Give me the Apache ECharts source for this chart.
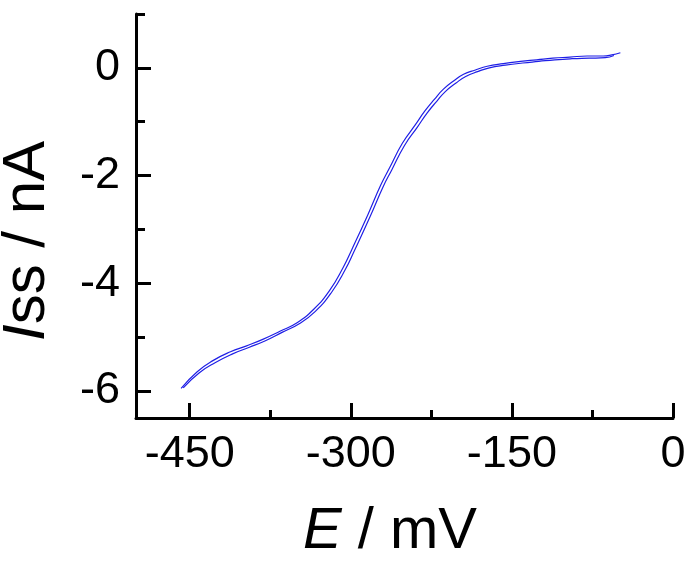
<!DOCTYPE html>
<html>
<head>
<meta charset="utf-8">
<script src="https://cdn.jsdelivr.net/npm/echarts@6/dist/echarts.min.js"></script>
<style>
  html, body { margin: 0; padding: 0; background: #fff; }
  #chart { width: 693px; height: 565px; }
</style>
</head>
<body>
<div id="chart"></div>
<script>
// sweep 1 (outer trace)
const sweepA_E = [-458, -443, -428, -412, -397, -382, -366, -350, -335, -320, -307, -299, -284, -272, -264, -252, -240, -231, -222, -214, -204, -195, -184, -173, -158, -142, -127, -112, -96, -80, -65, -57, -49];
const sweepA_I = [-5.95, -5.64, -5.43, -5.27, -5.16, -5.04, -4.89, -4.73, -4.49, -4.14, -3.70, -3.37, -2.72, -2.17, -1.86, -1.40, -1.06, -0.80, -0.58, -0.40, -0.24, -0.12, -0.04, 0.03, 0.08, 0.12, 0.15, 0.18, 0.20, 0.22, 0.22, 0.24, 0.28];
// sweep 2 (return trace)
const sweepB_E = [-456, -441, -426, -410, -395, -380, -364, -348, -333, -318, -305, -297, -282, -270, -262, -250, -238, -229, -220, -212, -202, -193, -182, -171, -156, -140, -125, -110, -94, -78, -63, -55];
const sweepB_I = [-5.94, -5.66, -5.47, -5.31, -5.19, -5.07, -4.91, -4.75, -4.52, -4.17, -3.74, -3.41, -2.76, -2.21, -1.90, -1.44, -1.10, -0.84, -0.62, -0.44, -0.28, -0.16, -0.07, 0.00, 0.05, 0.09, 0.12, 0.15, 0.17, 0.18, 0.19, 0.23];

const xMajor = [-450, -300, -150, 0];
const xMinor = [-375, -225, -75];
const yMajor = [-6, -4, -2, 0];
const yMinor = [-5, -3, -1, 1];

const font = "'Liberation Sans', Arial, Helvetica, sans-serif";
const lineColor = "#1f1fe6";

function pairs(xs, ys) {
  return xs.map((x, i) => [x, ys[i]]);
}

const chart = echarts.init(document.getElementById("chart"));

const axisLine = { show: true, onZero: false, lineStyle: { color: "#000", width: 3 } };
const noLine = { show: false, onZero: false };

chart.setOption({
  animation: false,
  grid: { left: 136, right: 20, top: 14, bottom: 147 },
  xAxis: [
    {
      type: "value",
      position: "bottom",
      min: -500,
      max: 0,
      axisLine: axisLine,
      axisTick: { inside: true, length: 15, customValues: xMajor, lineStyle: { color: "#000", width: 3 } },
      axisLabel: { customValues: xMajor, color: "#000", fontFamily: font, fontSize: 45, margin: 14 },
      splitLine: { show: false },
    },
    {
      type: "value",
      position: "bottom",
      min: -500,
      max: 0,
      axisLine: noLine,
      axisTick: { inside: true, length: 8, customValues: xMinor, lineStyle: { color: "#000", width: 3 } },
      axisLabel: { show: false },
      splitLine: { show: false },
    },
  ],
  yAxis: [
    {
      type: "value",
      position: "left",
      min: -6.5,
      max: 1,
      axisLine: axisLine,
      axisTick: { inside: true, length: 15, customValues: yMajor, lineStyle: { color: "#000", width: 3 } },
      axisLabel: { customValues: yMajor, color: "#000", fontFamily: font, fontSize: 45, margin: 16 },
      splitLine: { show: false },
    },
    {
      type: "value",
      position: "left",
      min: -6.5,
      max: 1,
      axisLine: noLine,
      axisTick: { inside: true, length: 9, customValues: yMinor, lineStyle: { color: "#000", width: 3 } },
      axisLabel: { show: false },
      splitLine: { show: false },
    },
  ],
  graphic: [
    {
      type: "text",
      x: 390,
      y: 532,
      style: {
        text: "{i|E} / mV",
        font: "58px " + font,
        fill: "#000",
        align: "center",
        verticalAlign: "middle",
        rich: { i: { fontStyle: "italic", fontSize: 58, fontFamily: font } },
      },
    },
    {
      type: "text",
      x: 27,
      y: 241,
      rotation: Math.PI / 2,
      style: {
        text: "{i|I}ss / nA",
        font: "60px " + font,
        fill: "#000",
        align: "center",
        verticalAlign: "middle",
        rich: { i: { fontStyle: "italic", fontSize: 60, fontFamily: font } },
      },
    },
  ],
  series: [
    {
      type: "line",
      data: pairs(sweepA_E, sweepA_I),
      smooth: true,
      showSymbol: false,
      lineStyle: { color: lineColor, width: 1.2 },
    },
    {
      type: "line",
      data: pairs(sweepB_E, sweepB_I),
      smooth: true,
      showSymbol: false,
      lineStyle: { color: lineColor, width: 1.2 },
    },
  ],
});
</script>
</body>
</html>
